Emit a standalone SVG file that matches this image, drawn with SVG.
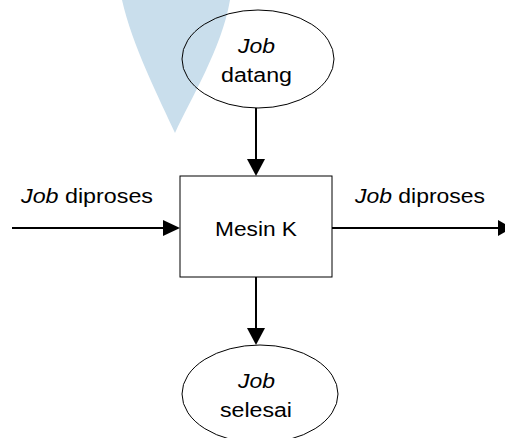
<svg xmlns="http://www.w3.org/2000/svg" width="505" height="438" viewBox="0 0 505 438">
  <style>
    .shape { fill: none; stroke: #000; stroke-width: 1; }
    .wire { fill: none; stroke: #000; stroke-width: 2; }
    .head { fill: #000; stroke: none; }
    text { font-family: "Liberation Sans", Arial, sans-serif; font-size: 20px; fill: #000; }
    .it { font-style: italic; }
  </style>
  <rect width="505" height="438" fill="#fff"/>
  <!-- background mark -->
  <path d="M122,0 C132,45 160,100 175,133 C190,100 222,48 230,0 Z" fill="#c9deec"/>

  <g id="connectors">
    <line class="wire" x1="256" y1="108" x2="256" y2="162"/>
    <polygon class="head" points="247,159 265,159 256,176"/>
    <line class="wire" x1="256" y1="277" x2="256" y2="331"/>
    <polygon class="head" points="247,328 265,328 256,345"/>
    <line class="wire" x1="12" y1="228" x2="166" y2="228"/>
    <polygon class="head" points="163,220 163,236 180,228"/>
    <line class="wire" x1="332" y1="228" x2="500" y2="228"/>
    <polygon class="head" points="498,220 498,236 512,228"/>
  </g>

  <g id="job-datang">
    <ellipse class="shape" cx="258" cy="59" rx="76" ry="49"/>
    <text x="256.5" y="53" text-anchor="middle" class="it" textLength="37" lengthAdjust="spacingAndGlyphs">Job</text>
    <text x="256.5" y="82" text-anchor="middle" textLength="71" lengthAdjust="spacingAndGlyphs">datang</text>
  </g>

  <g id="mesin-k">
    <rect class="shape" x="180" y="176" width="152" height="101"/>
    <text x="256" y="236" text-anchor="middle" textLength="82" lengthAdjust="spacingAndGlyphs">Mesin K</text>
  </g>

  <g id="job-selesai">
    <ellipse class="shape" cx="260" cy="394" rx="78" ry="49"/>
    <text x="256.5" y="388" text-anchor="middle" class="it" textLength="37" lengthAdjust="spacingAndGlyphs">Job</text>
    <text x="256" y="417" text-anchor="middle" textLength="72" lengthAdjust="spacingAndGlyphs">selesai</text>
  </g>

  <g id="labels">
    <text x="21" y="203" textLength="132" lengthAdjust="spacingAndGlyphs"><tspan class="it">Job</tspan> diproses</text>
    <text x="355" y="203" textLength="130" lengthAdjust="spacingAndGlyphs"><tspan class="it">Job</tspan> diproses</text>
  </g>
</svg>
